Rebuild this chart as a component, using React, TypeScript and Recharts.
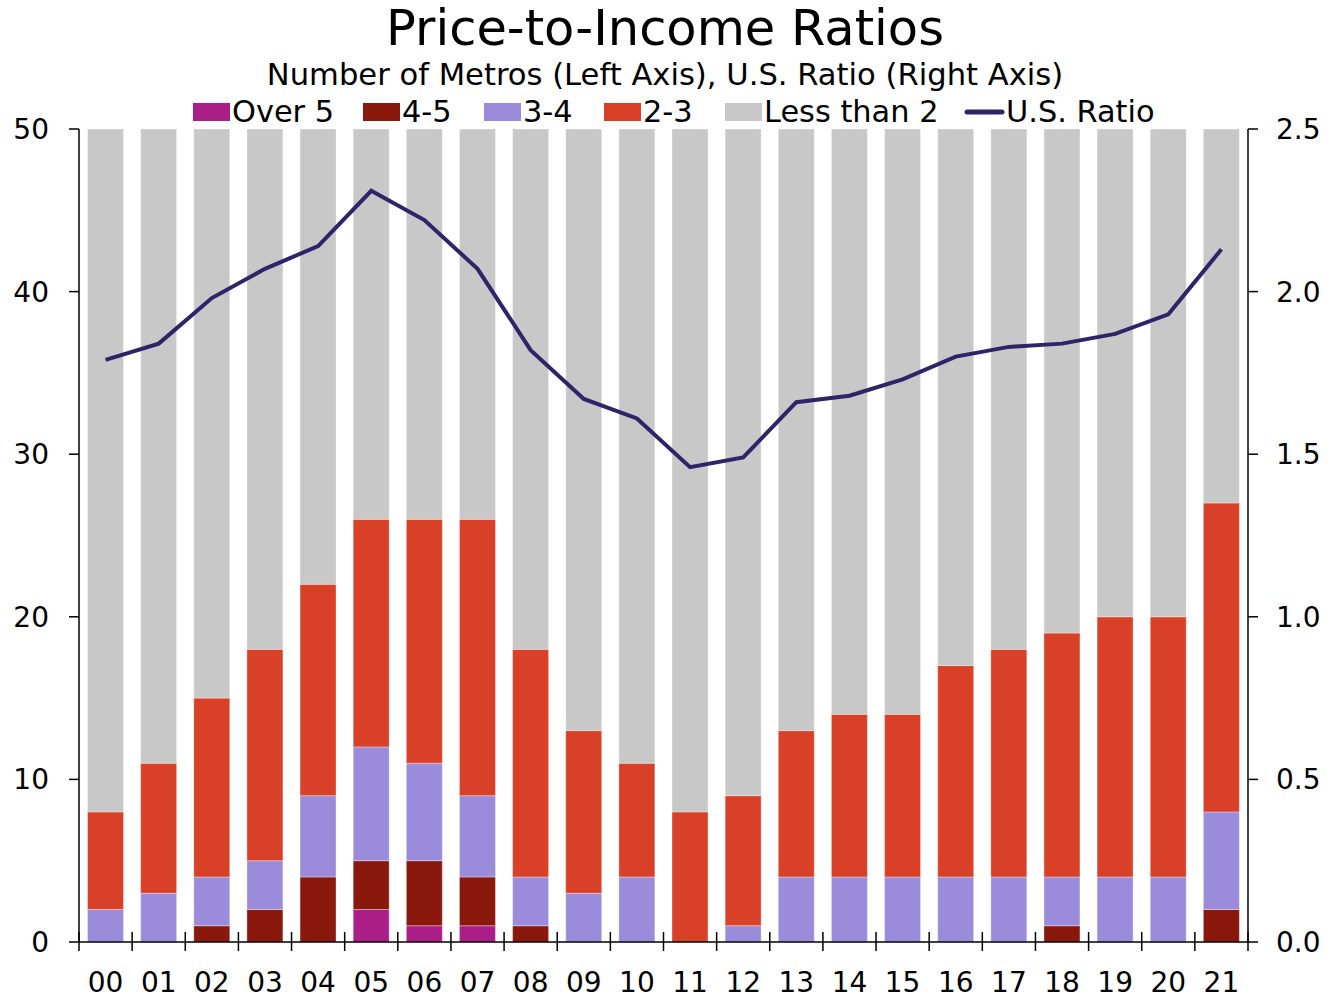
import React from "react";
import { ComposedChart, Bar, Line, XAxis, YAxis } from "recharts";

const years = ["00","01","02","03","04","05","06","07","08","09","10","11","12","13","14","15","16","17","18","19","20","21"];
const over5 =    [0,0,0,0,0,2,1,1,0,0,0,0,0,0,0,0,0,0,0,0,0,0];
const r45 =      [0,0,1,2,4,3,4,3,1,0,0,0,0,0,0,0,0,0,1,0,0,2];
const r34 =      [2,3,3,3,5,7,6,5,3,3,4,0,1,4,4,4,4,4,3,4,4,6];
const r23 =      [6,8,11,13,13,14,15,17,14,10,7,8,8,9,10,10,13,14,15,16,16,19];
const less2 =    [42,39,35,32,28,24,24,24,32,37,39,42,41,37,36,36,33,32,31,30,30,23];
const usRatio =  [1.79,1.84,1.98,2.07,2.14,2.31,2.22,2.07,1.82,1.67,1.61,1.46,1.49,1.66,1.68,1.73,1.80,1.83,1.84,1.87,1.93,2.13];
const leftTicks = [0,10,20,30,40,50];
const rightTicks = [0,0.5,1,1.5,2,2.5];

const data = years.map((y, i) => ({
  year: y,
  over5: over5[i],
  r45: r45[i],
  r34: r34[i],
  r23: r23[i],
  less2: less2[i],
  us: usRatio[i],
}));

const COLORS = {
  over5: "#AA1E87",
  r45: "#8A180C",
  r34: "#9B8BDB",
  r23: "#D94028",
  less2: "#C8C8C8",
  us: "#2F2468",
};

const W = 1340;
const H = 998;
const LEFT_W = 79;
const RIGHT_W = 92;
const TOP = 129;
const XAXIS_H = 56;
const PLOT_W = W - LEFT_W - RIGHT_W;
const BAND = PLOT_W / years.length;
const FONT = "'DejaVu Sans', Verdana, sans-serif";

const XTick = (props: any) => {
  const { x, y, payload, index } = props;
  const half = BAND / 2;
  return (
    <g>
      <line x1={x - half} x2={x - half} y1={y - 10} y2={y + 9} stroke="#000" strokeWidth={1.5} />
      {index === years.length - 1 && (
        <line x1={x + half} x2={x + half} y1={y - 10} y2={y + 9} stroke="#000" strokeWidth={1.5} />
      )}
      <text x={x} y={y + 30} dy="0.71em" textAnchor="middle" fontSize={28} fontFamily={FONT} fill="#000">
        {payload.value}
      </text>
    </g>
  );
};

const legendItems = [
  { key: "over5", label: "Over 5", x: 193 },
  { key: "r45", label: "4-5", x: 363 },
  { key: "r34", label: "3-4", x: 484 },
  { key: "r23", label: "2-3", x: 604 },
  { key: "less2", label: "Less than 2", x: 725 },
];

export default function App() {
  const barStroke = "rgba(255,255,255,0.35)";
  return (
    <div style={{ position: "absolute", left: 0, top: 0, width: W, height: H, background: "#fff" }}>
      <ComposedChart
        width={W}
        height={H}
        data={data}
        margin={{ top: TOP, right: 0, bottom: 0, left: 0 }}
        barCategoryGap="16%"
      >
        <XAxis
          xAxisId="top"
          dataKey="year"
          orientation="top"
          height={0}
          tick={false}
          tickLine={false}
          axisLine={{ stroke: "#000", strokeWidth: 1.5 }}
        />
        <XAxis
          dataKey="year"
          height={XAXIS_H}
          tickSize={0}
          tickMargin={0}
          tickLine={false}
          axisLine={{ stroke: "#000", strokeWidth: 1.5 }}
          tick={<XTick />}
          interval={0}
        />
        <YAxis
          yAxisId="left"
          orientation="left"
          width={LEFT_W}
          domain={[0, 50]}
          ticks={leftTicks}
          tickSize={10}
          tickMargin={20}
          axisLine={{ stroke: "#000", strokeWidth: 1.5 }}
          tickLine={{ stroke: "#000", strokeWidth: 1.5 }}
          tick={{ fontSize: 28, fontFamily: FONT, fill: "#000" }}
        />
        <YAxis
          yAxisId="right"
          orientation="right"
          width={RIGHT_W}
          domain={[0, 2.5]}
          ticks={rightTicks}
          tickSize={10}
          tickMargin={18}
          tickFormatter={(v: number) => v.toFixed(1)}
          axisLine={{ stroke: "#000", strokeWidth: 1.5 }}
          tickLine={{ stroke: "#000", strokeWidth: 1.5 }}
          tick={{ fontSize: 28, fontFamily: FONT, fill: "#000" }}
        />
        <Bar yAxisId="left" dataKey="over5" stackId="a" fill={COLORS.over5} stroke={barStroke} isAnimationActive={false} />
        <Bar yAxisId="left" dataKey="r45" stackId="a" fill={COLORS.r45} stroke={barStroke} isAnimationActive={false} />
        <Bar yAxisId="left" dataKey="r34" stackId="a" fill={COLORS.r34} stroke={barStroke} isAnimationActive={false} />
        <Bar yAxisId="left" dataKey="r23" stackId="a" fill={COLORS.r23} stroke={barStroke} isAnimationActive={false} />
        <Bar yAxisId="left" dataKey="less2" stackId="a" fill={COLORS.less2} stroke={barStroke} isAnimationActive={false} />
        <Line
          yAxisId="right"
          dataKey="us"
          type="linear"
          stroke={COLORS.us}
          strokeWidth={4}
          dot={false}
          activeDot={false}
          isAnimationActive={false}
        />
      </ComposedChart>
      <svg
        width={W}
        height={H}
        style={{ position: "absolute", left: 0, top: 0, pointerEvents: "none" }}
      >
        <text x={665} y={45} textAnchor="middle" fontSize={49.5} fontFamily={FONT} fill="#000">
          Price-to-Income Ratios
        </text>
        <text x={665} y={85} textAnchor="middle" fontSize={30.6} fontFamily={FONT} fill="#000">
          Number of Metros (Left Axis), U.S. Ratio (Right Axis)
        </text>
        {legendItems.map((it) => (
          <g key={it.key}>
            <rect x={it.x} y={103} width={37} height={18} fill={(COLORS as any)[it.key]} />
            <text x={it.x + 39} y={122} fontSize={30.4} fontFamily={FONT} fill="#000">
              {it.label}
            </text>
          </g>
        ))}
        <line x1={967} x2={1002} y1={112} y2={112} stroke={COLORS.us} strokeWidth={5} strokeLinecap="round" />
        <text x={1006} y={122} fontSize={30.4} fontFamily={FONT} fill="#000">
          U.S. Ratio
        </text>
      </svg>
    </div>
  );
}
